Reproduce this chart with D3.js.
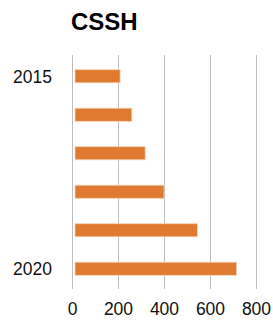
<!DOCTYPE html>
<html>
<head>
<meta charset="utf-8">
<script src="https://cdn.jsdelivr.net/npm/d3@7"></script>
<style>
  body { margin: 0; background: #fff; }
  text { font-family: "Liberation Sans", Arial, sans-serif; }
</style>
</head>
<body>
<div id="chart"></div>
<script>
const years = ['2015', '2016', '2017', '2018', '2019', '2020'];
const values = [207, 258, 316, 398, 543, 713];
const yLabels = ['2015', '', '', '', '', '2020'];
const xTicks = [0, 200, 400, 600, 800];

const width = 273, height = 320;

const svg = d3.select('#chart')
    .append('svg')
    .attr('width', width)
    .attr('height', height);

const x = d3.scaleLinear()
    .domain([0, 800])
    .range([72.5, 256.5]);

const y = d3.scaleBand()
    .domain(years)
    .range([57, 288])
    .paddingInner(0.66)
    .paddingOuter(0.33);

svg.append('text')
    .attr('x', 71)
    .attr('y', 30)
    .attr('font-size', 24)
    .attr('font-weight', 'bold')
    .attr('fill', '#000')
    .text('CSSH');

// gridlines
svg.append('g')
    .selectAll('line')
    .data(xTicks)
    .enter()
    .append('line')
    .attr('x1', d => x(d))
    .attr('x2', d => x(d))
    .attr('y1', 55)
    .attr('y2', 289)
    .attr('stroke', '#bdbdbd')
    .attr('stroke-width', 1);

// bars
svg.append('g')
    .selectAll('rect')
    .data(values)
    .enter()
    .append('rect')
    .attr('x', x(0) + 2.5)
    .attr('y', (d, i) => y(years[i]))
    .attr('width', d => x(d) - x(0) - 2.5)
    .attr('height', y.bandwidth())
    .attr('fill', '#e07a30')
    .attr('stroke', '#f6d3b8')
    .attr('stroke-width', 0.8);

// y labels
svg.append('g')
    .selectAll('text')
    .data(years)
    .enter()
    .append('text')
    .attr('x', 52)
    .attr('y', (d, i) => y(d) + y.bandwidth() / 2)
    .attr('dy', '0.36em')
    .attr('text-anchor', 'end')
    .attr('font-size', 17.5)
    .attr('fill', '#111')
    .text((d, i) => yLabels[i]);

// x tick labels
svg.append('g')
    .selectAll('text')
    .data(xTicks)
    .enter()
    .append('text')
    .attr('x', d => x(d))
    .attr('y', 315)
    .attr('text-anchor', 'middle')
    .attr('font-size', 17.5)
    .attr('fill', '#111')
    .text(d => d);
</script>
</body>
</html>
